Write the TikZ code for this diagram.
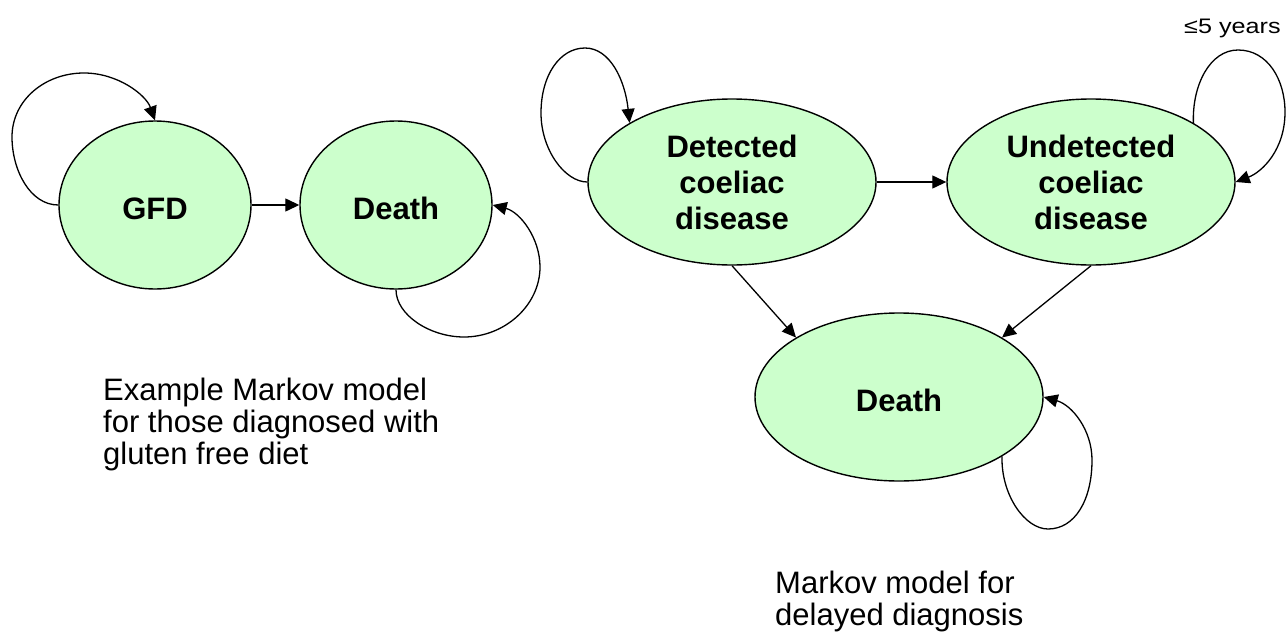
\documentclass[tikz,border=0pt]{standalone}
\usepackage{fontspec}
\usepackage{graphicx}
\setmainfont{Liberation Sans}
\usetikzlibrary{shapes.geometric,arrows.meta}
\definecolor{stategreen}{HTML}{CCFFCC}
\begin{document}
\begin{tikzpicture}[x=1pt,y=-1pt,
  state/.style={ellipse,draw=black,fill=stategreen,line width=1.4pt,inner sep=0pt,
    font=\fontsize{31}{36}\selectfont\bfseries,align=center},
  smallstate/.style={state,minimum width=192pt,minimum height=168pt,text height=28pt,text depth=0pt},
  bigstate/.style={state,minimum width=288pt,minimum height=167pt},
  arr/.style={line width=1.3pt,-{Triangle[length=14pt,width=13pt]}},
  loopline/.style={line width=1.3pt,-{Triangle[length=14pt,width=13pt]}},
  caption/.style={font=\fontsize{31}{32}\selectfont,align=left,inner sep=0pt,anchor=north west}]
\useasboundingbox (0,0) rectangle (1287,634);

% left model
\node[smallstate] (gfd) at (155,205) {GFD};
\node[smallstate] (deathL) at (396,205) {Death};
\draw[arr] (gfd.east) -- (deathL.west);
\draw[loopline] (gfd.west) .. controls (30,205) and (12,170) .. (12,137)
  .. controls (12,100) and (45,73) .. (84,73)
  .. controls (118,73) and (146,95) .. (gfd.north);
\draw[loopline] (deathL.south) .. controls (396,315) and (430,337) .. (464,337)
  .. controls (505,337) and (540,305) .. (540,267)
  .. controls (540,238) and (520,212) .. (deathL.east);
\node[caption] (capL) at (103,378) {Example Markov model\\for those diagnosed with\\gluten free diet};

% right model
\node[bigstate,minimum height=166pt] (det) at (732,182) {Detected\\coeliac\\disease};
\node[bigstate,minimum height=166pt] (und) at (1091,182) {Undetected\\coeliac\\disease};
\node[bigstate,minimum height=168pt,text height=28pt,text depth=0pt] (deathB) at (899,397) {Death};
\draw[arr] (det.east) -- (und.west);
\draw[arr] (det.south) -- (deathB.150);
\draw[arr] (und.south) -- (deathB.30);
\draw[loopline] (det.west) .. controls (565,182) and (541,150) .. (541,113)
  .. controls (541,75) and (560,48) .. (585,48)
  .. controls (610,48) and (625,80) .. (det.150);
\draw[loopline] (und.30) .. controls (1192,85) and (1210,50) .. (1238,50)
  .. controls (1268,50) and (1285,80) .. (1285,112)
  .. controls (1285,150) and (1262,172) .. (und.east);
\draw[loopline] (deathB.330) .. controls (1001,495) and (1025,529) .. (1048,529)
  .. controls (1075,529) and (1092,500) .. (1092,460)
  .. controls (1092,430) and (1072,405) .. (deathB.east);
\node[font=\fontsize{21}{25}\selectfont,inner sep=0pt,anchor=base west] (years) at (1184,34) {\scalebox{1.2}[1]{≤5 years}};
\node[caption] (capR) at (775,571) {Markov model for\\delayed diagnosis};
\end{tikzpicture}
\end{document}
